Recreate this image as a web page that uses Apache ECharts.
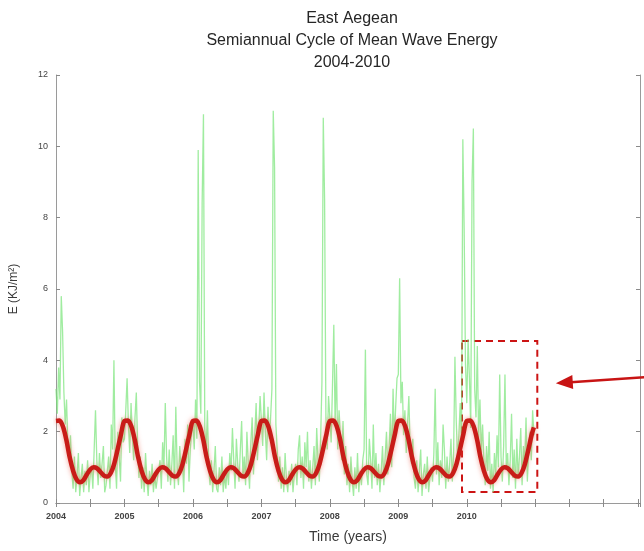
<!DOCTYPE html>
<html>
<head>
<meta charset="utf-8">
<script src="https://cdn.jsdelivr.net/npm/echarts@6/dist/echarts.min.js"></script>
<style>
  html, body { margin: 0; padding: 0; background: #fff; }
  #chart { width: 644px; height: 551px; }
</style>
</head>
<body>
<div id="chart"></div>
<script>
// Weekly mean wave energy (kJ/m^2), 52 samples per year, East Aegean
const e2004 = [3.2,2.5,3.8,2.9,5.8,4.8,3.1,2.2,2.9,1.6,1.2,1.9,0.9, 0.4,1.3,0.3,0.8,1.4,0.2,0.7,1.1,0.3,0.9,0.5,1.2,0.3, 0.8,1.0,0.4,1.5,2.6,1.2,0.5,1.4,0.7,1.1,1.6,0.3,0.5, 0.9,1.3,0.4,2.2,1.5,4.0,1.1,0.4,2.0,1.3,0.6,2.4,1.7];
const e2005 = [1.8,2.6,3.5,2.2,1.4,2.8,1.9,1.2,2.4,3.1,1.6,0.7,1.3, 0.4,1.0,0.3,1.4,0.7,0.2,0.9,0.5,1.1,0.3,0.8,0.4,0.7, 0.9,1.2,0.4,1.7,1.0,2.8,1.3,0.6,1.5,0.5,1.1,1.9,0.4, 2.7,1.0,0.5,1.6,0.9,1.3,0.3,1.8,1.1,2.2,0.6,1.5,2.0];
const e2006 = [2.2,1.5,2.9,1.8,9.9,3.4,2.5,8.4,10.9,2.1,1.4,2.6,1.0, 0.5,1.2,0.3,0.9,1.6,0.4,0.3,1.0,0.5,1.3,0.3,0.8,0.4, 1.0,0.5,1.4,0.9,2.1,1.2,0.4,1.8,1.1,0.6,1.5,2.3,0.7, 1.3,0.5,2.0,1.1,0.4,1.7,2.4,0.8,1.9,2.8,1.2,2.1,3.0];
const e2007 = [2.3,1.6,3.1,2.0,1.2,2.7,1.8,2.4,3.2,11.0,9.4,2.2,1.5, 0.6,1.3,0.4,1.0,0.3,1.4,0.7,0.3,0.9,0.5,1.1,0.3,0.8, 1.1,0.5,1.5,1.9,0.7,1.3,0.4,1.7,1.0,2.0,0.6,1.2,0.4, 1.0,1.6,0.5,2.1,1.2,0.6,1.8,3.4,10.8,8.5,2.4,1.5,3.0];
const e2008 = [2.4,1.7,3.3,5.0,2.2,3.9,1.5,2.6,1.9,1.2,2.3,0.8,1.6, 0.5,1.1,0.3,1.3,0.6,0.2,1.0,0.4,1.4,0.3,0.9,0.5,1.2, 1.5,4.3,0.8,0.5,1.8,1.2,0.4,2.2,0.7,1.4,0.5,1.1,0.3, 0.9,1.6,0.5,1.3,2.0,0.8,1.5,2.5,1.0,3.2,1.8,2.7,3.5];
const e2009 = [3.6,6.3,2.8,3.4,1.9,2.6,1.4,2.2,3.0,1.5,1.1,1.8,0.7, 0.4,1.2,0.3,0.9,1.5,0.2,0.8,1.1,0.4,1.3,0.3,0.7,1.0, 0.6,1.4,3.2,0.8,1.7,0.5,1.2,0.7,2.2,1.5,0.4,1.3,0.6, 1.1,1.8,0.6,1.4,4.1,2.3,1.2,1.9,2.8,1.6,10.2,7.7,3.9];
const e2010 = [2.8,4.6,3.5,2.1,9.0,10.5,3.2,2.4,4.4,1.8,2.9,1.4,2.2, 1.2,0.5,1.6,0.9,2.0,0.4,1.1,0.3,1.4,0.8,1.9,1.0,3.6, 1.3,0.6,1.6,3.6,1.0,1.4,0.5,1.2,2.5,0.7,1.5,0.4,1.8, 0.7,1.3,2.1,0.5,1.6,1.1,2.4,0.6,1.5,2.0,1.2,2.6,1.9];
const energyYears = [2004, 2005, 2006, 2007, 2008, 2009, 2010];
const energyByYear = [e2004, e2005, e2006, e2007, e2008, e2009, e2010];

// Fitted semiannual cycle, 20 samples per year from 2004.00, last sample at 2010.98
const fitE = [
  2.30,2.31,2.15,1.78,1.28,0.90,0.66,0.58,0.64,0.80,0.94,1.00,0.97,0.87,0.77,0.74,0.84,1.10,1.50,1.93,
  2.30,2.31,2.15,1.78,1.28,0.90,0.66,0.58,0.64,0.80,0.94,1.00,0.97,0.87,0.77,0.74,0.84,1.10,1.50,1.93,
  2.30,2.31,2.15,1.78,1.28,0.90,0.66,0.58,0.64,0.80,0.94,1.00,0.97,0.87,0.77,0.74,0.84,1.10,1.50,1.93,
  2.30,2.31,2.15,1.78,1.28,0.90,0.66,0.58,0.64,0.80,0.94,1.00,0.97,0.87,0.77,0.74,0.84,1.10,1.50,1.93,
  2.30,2.31,2.15,1.78,1.28,0.90,0.66,0.58,0.64,0.80,0.94,1.00,0.97,0.87,0.77,0.74,0.84,1.10,1.50,1.93,
  2.30,2.31,2.15,1.78,1.28,0.90,0.66,0.58,0.64,0.80,0.94,1.00,0.97,0.87,0.77,0.74,0.84,1.10,1.50,1.93,
  2.30,2.31,2.15,1.78,1.28,0.90,0.66,0.58,0.64,0.80,0.94,1.00,0.97,0.87,0.77,0.74,0.84,1.10,1.50,1.93
];
const fitEndT = 2010.98, fitEndE = 2.12;

// Axis labels
const labelledYears = [2004, 2005, 2006, 2007, 2008, 2009, 2010];
const titleLines = ['East Aegean', 'Semiannual Cycle of Mean Wave Energy', '2004-2010'];
const xName = 'Time (years)';
const yName = 'E (KJ/m\u00B2)';

// Highlighted window (time range, energy range)
const boxT = [2009.93, 2011.03];
const boxE = [0.31, 4.54];

// Build series data
const energyData = [];
energyByYear.forEach((vals, k) => {
  vals.forEach((v, i) => energyData.push([energyYears[k] + i / 52, v]));
});
const fitData = fitE.map((v, k) => [2004 + k / 20, v]);
fitData.push([fitEndT, fitEndE]);

const chart = echarts.init(document.getElementById('chart'), null, { renderer: 'canvas' });
const FONT = 'Liberation Sans, Arial, sans-serif';
const axisLine = { show: true, lineStyle: { color: '#9a9a9a', width: 1 } };

const option = {
  animation: false,
  backgroundColor: '#ffffff',
  title: {
    text: titleLines.join('\n'),
    left: 347, top: 3, textAlign: 'center',
    textStyle: { fontFamily: FONT, fontSize: 16, fontWeight: 'normal', color: '#262626', lineHeight: 22 }
  },
  grid: { left: 55, right: 4, top: 75, bottom: 48 },
  xAxis: [
    {
      type: 'value', min: 2004, max: 2012.53, interval: 0.5,
      axisLine, splitLine: { show: false },
      axisTick: { show: true, inside: true, length: 4, lineStyle: { color: '#8a8a8a' } },
      axisLabel: {
        margin: 9, fontFamily: FONT, fontSize: 9, fontWeight: 'bold', color: '#444',
        showMaxLabel: false,
        formatter: v => labelledYears.includes(v) ? String(v) : ''
      },
      name: xName, nameLocation: 'middle', nameGap: 27,
      nameTextStyle: { fontFamily: FONT, fontSize: 14, color: '#3a3a3a' }
    },
    {
      type: 'value', position: 'top', min: 2004, max: 2012.53, interval: 0.5,
      axisLine, splitLine: { show: false },
      axisTick: { show: true, inside: true, length: 4, lineStyle: { color: '#8a8a8a' } },
      axisLabel: { show: false }
    }
  ],
  yAxis: [
    {
      type: 'value', min: 0, max: 12, interval: 2,
      axisLine, splitLine: { show: false },
      axisTick: { show: true, inside: true, length: 4, lineStyle: { color: '#8a8a8a' } },
      axisLabel: { margin: 8, fontFamily: FONT, fontSize: 9, color: '#444' },
      name: yName, nameLocation: 'middle', nameGap: 36, nameRotate: 90,
      nameTextStyle: { fontFamily: FONT, fontSize: 12, color: '#3a3a3a' }
    },
    {
      type: 'value', position: 'right', min: 0, max: 12, interval: 2,
      axisLine, splitLine: { show: false },
      axisTick: { show: true, inside: true, length: 4, lineStyle: { color: '#8a8a8a' } },
      axisLabel: { show: false }
    }
  ],
  series: [
    {
      name: 'energy', type: 'line', data: energyData,
      showSymbol: false, symbol: 'none', silent: true,
      lineStyle: { color: 'rgba(120,228,120,0.7)', width: 1.3 },
      z: 2
    },
    {
      name: 'fit', type: 'line', data: fitData, smooth: 0.3,
      showSymbol: false, symbol: 'none', silent: true,
      lineStyle: { color: '#c81c18', width: 4.5, shadowColor: 'rgba(235,90,70,0.55)', shadowBlur: 5 },
      z: 3,
      markArea: {
        silent: true,
        itemStyle: { color: 'rgba(0,0,0,0)', borderColor: '#cc1414', borderWidth: 2, borderType: [7, 5] },
        data: [[{ coord: [boxT[0], boxE[1]] }, { coord: [boxT[1], boxE[0]] }]]
      }
    }
  ]
};
chart.setOption(option);

// Pointer arrow coming in from the right margin toward the window
const tail = chart.convertToPixel({ gridIndex: 0 }, [2012.62, 3.53]);
const tip = chart.convertToPixel({ gridIndex: 0 }, [2011.30, 3.36]);
const dx = tip[0] - tail[0], dy = tip[1] - tail[1];
const len = Math.hypot(dx, dy), ux = dx / len, uy = dy / len;
const headL = 17, headW = 7;
const base = [tip[0] - ux * headL, tip[1] - uy * headL];
chart.setOption({
  graphic: [
    {
      type: 'line', silent: true, z: 10,
      shape: { x1: tail[0], y1: tail[1], x2: base[0] + ux * 2, y2: base[1] + uy * 2 },
      style: { stroke: '#c81414', lineWidth: 2.5 }
    },
    {
      type: 'polygon', silent: true, z: 10,
      shape: { points: [tip, [base[0] - uy * headW, base[1] + ux * headW], [base[0] + uy * headW, base[1] - ux * headW]] },
      style: { fill: '#c81414' }
    }
  ]
});
</script>
</body>
</html>
